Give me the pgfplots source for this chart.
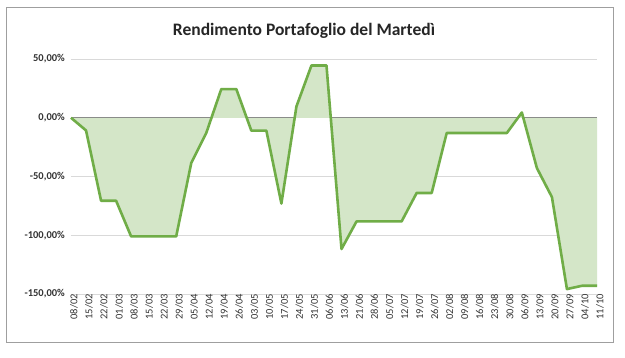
\documentclass[border=0pt]{standalone}
\usepackage{fontspec}
\setmainfont{Carlito}
\usepackage{pgfplots}
\pgfplotsset{compat=1.18}
\usepackage{pgfplotstable}
\definecolor{lgreen}{HTML}{70AD47}
\definecolor{fgreen}{HTML}{D4E6C8}
\definecolor{gridc}{HTML}{D9D9D9}
\pgfplotstableread{
x y
0 0
1 -10.8
2 -70.6
3 -70.6
4 -101
5 -101
6 -101
7 -101
8 -38.6
9 -13
10 24.4
11 24.4
12 -11
13 -11
14 -73
15 9.6
16 44.5
17 44.5
18 -111.7
19 -88.2
20 -88.2
21 -88.2
22 -88.2
23 -64
24 -64
25 -13
26 -13
27 -13
28 -13
29 -13
30 4.5
31 -42.8
32 -67.5
33 -145.8
34 -143
35 -143
}\datatable
\begin{document}
\begin{tikzpicture}[x=1pt,y=1pt]
\useasboundingbox (0,0) rectangle (625,357);
\fill[white] (0,0) rectangle (625,357);
\draw[gray!75, line width=0.8pt] (6.5,15) rectangle (613,350);
\node[font=\bfseries\fontsize{17.5}{20}\selectfont, text=black!85] at (304,326) {Rendimento Portafoglio del Martedì};
\begin{axis}[
  at={(71pt,63pt)}, anchor=south west,
  scale only axis, width=526pt, height=235pt,
  xmin=0, xmax=35, ymin=-150, ymax=50,
  axis line style={draw=none},
  major tick length=0pt,
  xtick={0,...,35},
  xticklabels={08/02,15/02,22/02,01/03,08/03,15/03,22/03,29/03,05/04,12/04,19/04,26/04,03/05,10/05,17/05,24/05,31/05,06/06,13/06,21/06,28/06,05/07,12/07,19/07,26/07,02/08,09/08,16/08,23/08,30/08,06/09,13/09,20/09,27/09,04/10,11/10},
  xticklabel style={rotate=90, anchor=east, inner sep=0pt, yshift=-3pt, font=\fontsize{10.5}{12}\selectfont, text=black!80},
  ytick={-150,-100,-50,0,50},
  yticklabels={{-150,00\%},{-100,00\%},{-50,00\%},{0,00\%},{50,00\%}},
  yticklabel style={anchor=east, inner sep=0pt, xshift=-6pt, font=\bfseries\fontsize{10.5}{12}\selectfont, text=black!80},
  ymajorgrids, grid style={gridc, line width=1pt},
  extra y ticks={0}, extra y tick labels={},
  extra y tick style={grid style={black!50, line width=1pt}},
  /pgf/number format/assume math mode=true,
  clip=false,
]
\addplot[draw=none, fill=fgreen] table[x=x,y=y]{\datatable} \closedcycle;
\addplot[lgreen, line width=2.6pt, line join=round] table[x=x,y=y]{\datatable};
\end{axis}
\end{tikzpicture}
\end{document}
